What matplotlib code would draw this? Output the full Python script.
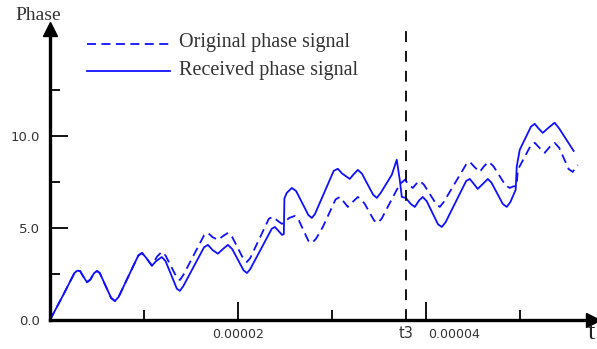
import matplotlib
matplotlib.use("Agg")
import matplotlib.pyplot as plt
import numpy as np

# time in microseconds, phase in rad
t_recv = [0, 1.5, 2.6, 2.9, 3.2, 3.5, 3.94, 4.3, 4.7, 5.0, 5.3, 6.5, 6.91, 7.3,
          9.4, 9.79, 10.2, 10.85, 11.3, 11.9, 12.3, 13.5, 13.83, 14.2, 16.4, 16.81,
          17.3, 17.87, 18.4, 18.94, 19.4, 20.6, 20.96, 21.3, 23.6, 23.94, 24.3, 24.7,
          24.89, 24.95, 25.2, 25.74, 26.2, 27.5, 27.87, 28.2, 30.2, 30.64, 31.1, 31.91,
          32.3, 32.77, 33.2, 34.4, 34.79, 35.2, 36.38, 36.91, 37.23, 37.45, 37.87,
          38.4, 38.83, 39.3, 39.68, 40.1, 41.3, 41.70, 42.1, 44.3, 44.68, 45.1, 45.53,
          46.1, 46.6, 47.0, 48.2, 48.62, 49.0, 49.57, 49.68, 50.0, 51.2, 51.6, 52.0,
          52.45, 53.2, 53.72, 54.2, 55.74]
ph_recv = [0, 1.45, 2.55, 2.68, 2.66, 2.4, 2.05, 2.2, 2.55, 2.66, 2.55, 1.2, 1.03, 1.25,
           3.5, 3.64, 3.4, 2.95, 3.2, 3.42, 3.2, 1.7, 1.58, 1.85, 3.95, 4.08,
           3.8, 3.6, 3.85, 4.08, 3.85, 2.7, 2.55, 2.75, 4.95, 5.05, 4.85, 4.62,
           4.67, 6.6, 6.9, 7.17, 7.0, 5.7, 5.54, 5.75, 8.1, 8.21, 7.95, 7.66,
           7.9, 8.15, 7.95, 6.8, 6.63, 6.9, 7.88, 8.70, 7.61, 6.68, 6.63,
           6.3, 6.14, 6.5, 6.68, 6.45, 5.2, 5.05, 5.3, 7.55, 7.66, 7.4, 7.12,
           7.4, 7.66, 7.45, 6.3, 6.14, 6.4, 7.07, 8.32, 9.24, 10.5, 10.65, 10.4,
           10.16, 10.5, 10.71, 10.4, 9.18]

t_orig = [0, 1.5, 2.6, 2.9, 3.2, 3.5, 3.94, 4.3, 4.7, 5.0, 5.3, 6.5, 6.91, 7.3,
          9.4, 9.79, 10.2, 10.85, 11.4, 11.91, 12.3, 13.5, 13.83, 14.2, 16.4, 16.81,
          17.3, 17.87, 18.4, 18.94, 19.4, 20.6, 20.96, 21.3, 23.3, 23.72, 24.2, 24.68,
          25.5, 26.06, 26.5, 27.5, 27.87, 28.3, 29.04, 30.4, 30.85, 31.3, 31.7, 32.3,
          32.77, 33.2, 33.51, 34.5, 34.89, 35.3, 36.91, 37.4, 37.77, 38.2, 38.62, 39.0,
          39.36, 39.8, 41.1, 41.49, 41.9, 44.3, 44.68, 45.2, 45.74, 46.2, 46.7, 47.2,
          48.5, 48.94, 49.3, 49.68, 49.79, 51.2, 51.6, 52.1, 52.66, 53.2, 53.72, 54.2,
          55.2, 55.64, 56.17]
ph_orig = [0, 1.45, 2.55, 2.68, 2.66, 2.4, 2.05, 2.2, 2.55, 2.66, 2.55, 1.2, 1.03, 1.25,
           3.5, 3.64, 3.4, 2.95, 3.45, 3.70, 3.5, 2.3, 2.17, 2.45, 4.6, 4.73,
           4.5, 4.35, 4.55, 4.73, 4.5, 3.3, 3.15, 3.35, 5.5, 5.6, 5.4, 5.22,
           5.55, 5.65, 5.4, 4.3, 4.18, 4.4, 5.05, 6.55, 6.68, 6.4, 6.14, 6.45,
           6.68, 6.5, 6.3, 5.4, 5.27, 5.5, 7.07, 7.45, 7.61, 7.35, 7.17, 7.4,
           7.55, 7.35, 6.3, 6.14, 6.4, 8.45, 8.59, 8.3, 8.04, 8.35, 8.59, 8.35,
           7.3, 7.17, 7.25, 7.28, 8.15, 9.5, 9.62, 9.35, 9.08, 9.4, 9.62, 9.35,
           8.2, 8.04, 8.42]

t3 = 37.87
xmax, ymax = 57.8, 15.8

fig = plt.figure(figsize=(5.97, 3.49), dpi=100)
ax = fig.add_axes([50/597, 29/349, 543/597, 291/349])
ax.set_xlim(0, xmax)
ax.set_ylim(0, ymax)

blue = '#1010ff'
ax.plot(t_orig, ph_orig, color=blue, lw=1.3, dashes=(5, 3), clip_on=False)
ax.plot(t_recv, ph_recv, color=blue, lw=1.3, clip_on=False)
ax.plot([t3, t3], [0, 15.9], color='black', lw=1.3, dashes=(6, 5), clip_on=False)

for s in ['top', 'right']:
    ax.spines[s].set_visible(False)
for s in ['left', 'bottom']:
    ax.spines[s].set_linewidth(2.4)
ax.plot(0, ymax, marker='^', color='black', markersize=10, clip_on=False)
ax.plot(xmax, 0, marker='>', color='black', markersize=10, clip_on=False)

ax.set_yticks([0, 5, 10])
ax.set_yticklabels(['0.0', '5.0', '10.0'])
ax.set_yticks([2.5, 7.5, 12.5], minor=True)
ax.set_xticks([20, 40])
ax.set_xticklabels([])
ax.set_xticks([10, 30, 50], minor=True)
ax.tick_params(axis='both', which='major', direction='in', length=13, width=1.3,
               labelsize=9.5, labelcolor='#333333')
ax.tick_params(axis='both', which='minor', direction='in', length=7, width=1.3)
ax.tick_params(axis='y', pad=7)

ax.text(20, -0.45, '0.00002', ha='center', va='top', fontsize=9, color='#333333')
ax.text(43.0, -0.45, '0.00004', ha='center', va='top', fontsize=9, color='#333333')
ax.text(t3, -0.35, 't3', ha='center', va='top', fontsize=10.5, color='#333333')

serif = 'Liberation Serif'
fig.text(38/597, 1 - 16/349, 'Phase', ha='center', va='center', family=serif,
         fontsize=14, color='#333333')
fig.text(591/597, 1 - 333/349, 't', ha='center', va='center', family=serif,
         fontsize=19, color='#222222')

# legend drawn by hand
fig.add_artist(plt.Line2D([87/597, 170/597], [1 - 44/349, 1 - 44/349], color=blue,
                          lw=1.3, dashes=(5, 3)))
fig.add_artist(plt.Line2D([87/597, 170/597], [1 - 71/349, 1 - 71/349], color=blue, lw=1.3))
fig.text(179/597, 1 - 43/349, 'Original phase signal', va='center', family=serif,
         fontsize=14.5, color='#333333')
fig.text(179/597, 1 - 70/349, 'Received phase signal', va='center', family=serif,
         fontsize=14.5, color='#333333')

fig.savefig('out.png', dpi=100)
